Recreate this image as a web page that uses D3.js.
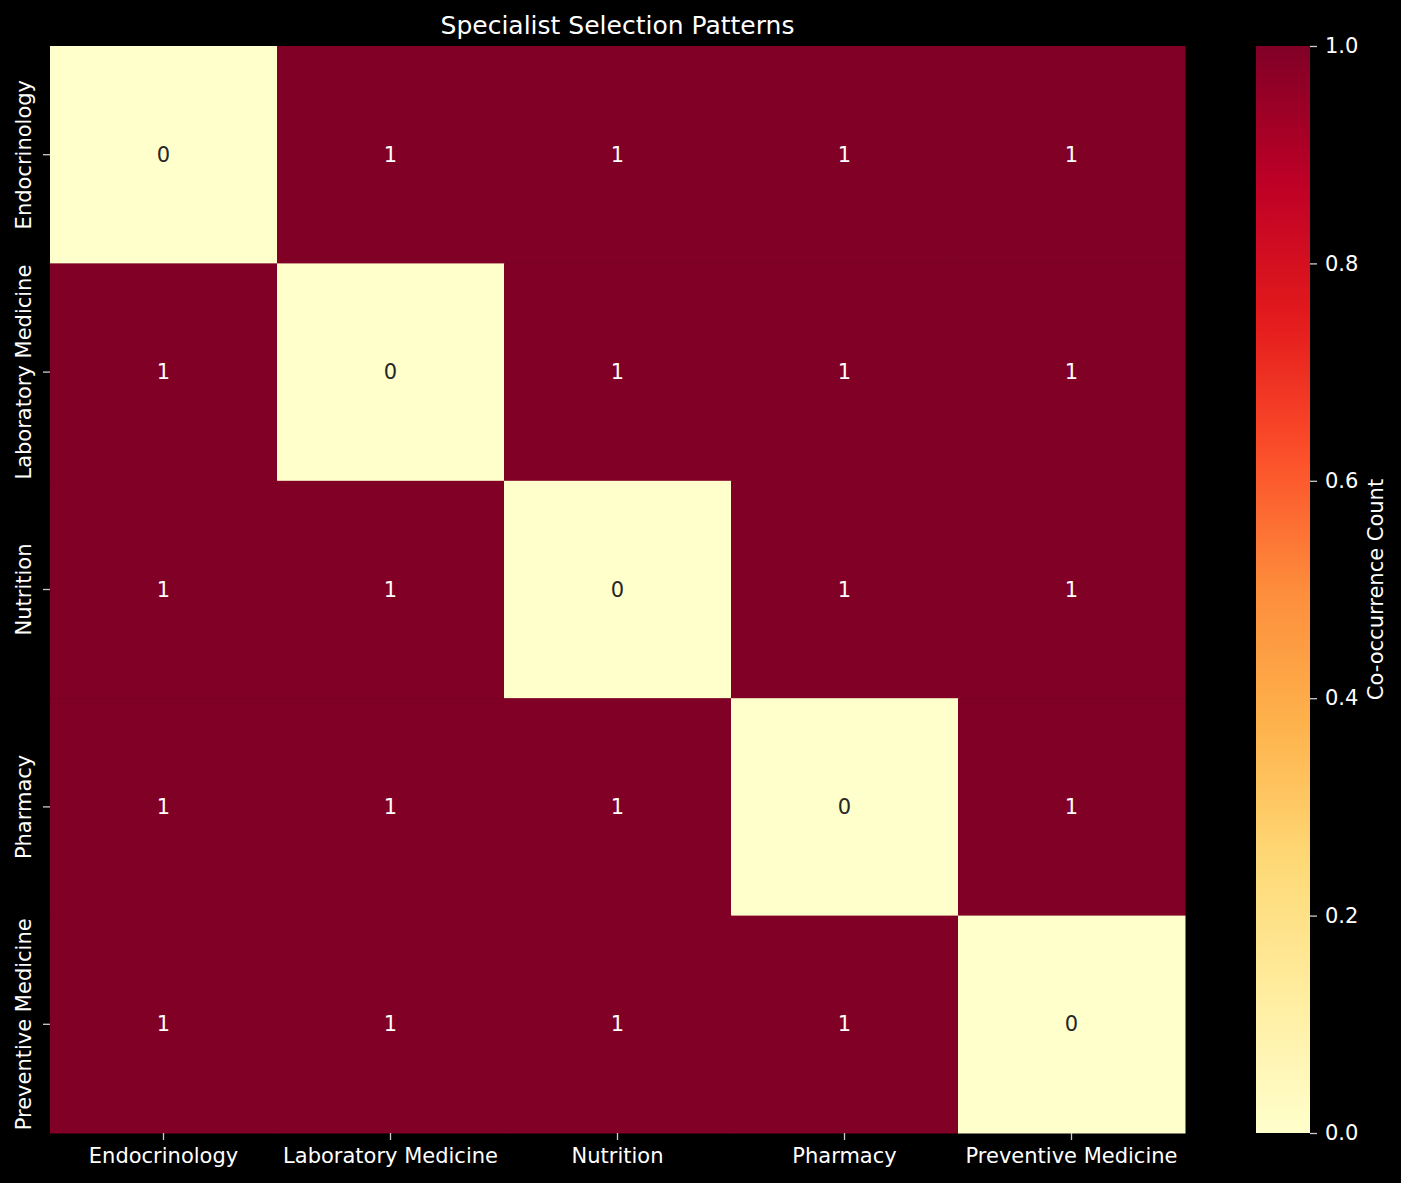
<!DOCTYPE html>
<html>
<head>
<meta charset="utf-8">
<script src="https://cdn.jsdelivr.net/npm/d3@7"></script>
<style>
  html, body { margin: 0; padding: 0; background: #000; }
  svg { display: block; }
</style>
</head>
<body>
<div id="chart"></div>
<script>
'use strict';

// Data
const specialists = ['Endocrinology', 'Laboratory Medicine', 'Nutrition', 'Pharmacy', 'Preventive Medicine'];
const counts = [
  [0, 1, 1, 1, 1],
  [1, 0, 1, 1, 1],
  [1, 1, 0, 1, 1],
  [1, 1, 1, 0, 1],
  [1, 1, 1, 1, 0]
];
const colorTicks = [0, 0.2, 0.4, 0.6, 0.8, 1.0];
const ylorrd = ['#ffffcc', '#ffeda0', '#fed976', '#feb24c', '#fd8d3c', '#fc4e2a', '#e31a1c', '#bd0026', '#800026'];

const width = 1401, height = 1183;
const plot = { left: 50, top: 46, right: 1185, bottom: 1133 };
const bar = { left: 1256, right: 1310 };
const font = 'DejaVu Sans, sans-serif';
const fs = 21;
const fg = '#ffffff';
const tickCol = '#cccccc';

const svg = d3.select('#chart').append('svg')
  .attr('width', width).attr('height', height)
  .style('font-family', font);

svg.append('rect').attr('width', width).attr('height', height).attr('fill', '#000');

const x = d3.scaleBand().domain(specialists).range([plot.left, plot.right]);
const y = d3.scaleBand().domain(specialists).range([plot.top, plot.bottom]);

const color = d3.scaleLinear()
  .domain(d3.range(ylorrd.length).map(i => i / (ylorrd.length - 1)))
  .range(ylorrd)
  .interpolate(d3.interpolateRgb);

const cells = [];
counts.forEach((row, i) => row.forEach((v, j) => cells.push({ r: specialists[i], c: specialists[j], v })));

svg.append('g').selectAll('rect')
  .data(cells)
  .join('rect')
    .attr('x', d => x(d.c))
    .attr('y', d => y(d.r))
    .attr('width', x.bandwidth() + 0.5)
    .attr('height', y.bandwidth() + 0.5)
    .attr('fill', d => color(d.v));

svg.append('g').selectAll('text')
  .data(cells)
  .join('text')
    .attr('x', d => x(d.c) + x.bandwidth() / 2)
    .attr('y', d => y(d.r) + y.bandwidth() / 2)
    .attr('text-anchor', 'middle')
    .attr('dominant-baseline', 'central')
    .attr('font-size', fs)
    .attr('fill', d => d.v < 0.5 ? '#262626' : '#ffffff')
    .text(d => d.v);

// x axis
const xAxis = svg.append('g')
  .attr('transform', `translate(0,${plot.bottom})`)
  .call(d3.axisBottom(x).tickSize(7).tickPadding(8));
xAxis.select('.domain').remove();
xAxis.selectAll('line').attr('stroke', tickCol).attr('stroke-width', 1.3);
xAxis.selectAll('text').attr('fill', fg).attr('font-size', fs).attr('font-family', font);

// y axis
const yAxis = svg.append('g')
  .attr('transform', `translate(${plot.left},0)`)
  .call(d3.axisLeft(y).tickSize(7).tickPadding(0));
yAxis.select('.domain').remove();
yAxis.selectAll('line').attr('stroke', tickCol).attr('stroke-width', 1.3);
yAxis.selectAll('text')
  .attr('fill', fg).attr('font-size', fs).attr('font-family', font)
  .attr('text-anchor', 'middle')
  .attr('x', 0).attr('dy', 0)
  .attr('transform', 'translate(-26,0) rotate(-90)')
  .attr('dominant-baseline', 'central');

// title
svg.append('text')
  .attr('x', (plot.left + plot.right) / 2)
  .attr('y', 34)
  .attr('text-anchor', 'middle')
  .attr('font-size', 25)
  .attr('fill', fg)
  .text('Specialist Selection Patterns');

// colorbar
const cb = d3.scaleLinear().domain([0, 1]).range([plot.bottom, plot.top]);
const defs = svg.append('defs');
const grad = defs.append('linearGradient')
  .attr('id', 'cbgrad').attr('x1', 0).attr('y1', 1).attr('x2', 0).attr('y2', 0);
d3.range(0, 1.0001, 0.02).forEach(t => {
  grad.append('stop').attr('offset', t).attr('stop-color', color(t));
});
svg.append('rect')
  .attr('x', bar.left).attr('y', plot.top)
  .attr('width', bar.right - bar.left).attr('height', plot.bottom - plot.top)
  .attr('fill', 'url(#cbgrad)');

const cAxis = svg.append('g')
  .attr('transform', `translate(${bar.right},0)`)
  .call(d3.axisRight(cb).tickValues(colorTicks).tickFormat(d3.format('.1f')).tickSize(7).tickPadding(8));
cAxis.select('.domain').remove();
cAxis.selectAll('line').attr('stroke', tickCol).attr('stroke-width', 1.3);
cAxis.selectAll('text').attr('fill', fg).attr('font-size', fs).attr('font-family', font);

svg.append('text')
  .attr('transform', `translate(1376,${(plot.top + plot.bottom) / 2}) rotate(-90)`)
  .attr('text-anchor', 'middle')
  .attr('dominant-baseline', 'central')
  .attr('font-size', fs)
  .attr('fill', fg)
  .text('Co-occurrence Count');
</script>
</body>
</html>
